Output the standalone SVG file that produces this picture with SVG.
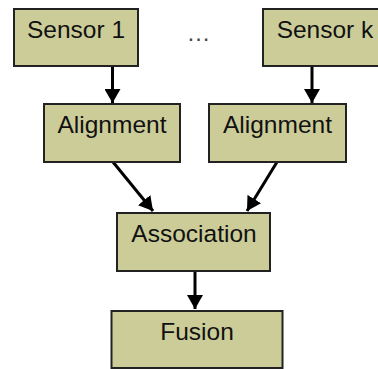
<svg xmlns="http://www.w3.org/2000/svg" width="378" height="369" viewBox="0 0 378 369">
  <style>
    .box { fill: #cccc99; stroke: #222222; stroke-width: 2; }
    .label { font-family: "Liberation Sans", Arial, sans-serif; font-size: 24.5px; fill: #111111; text-anchor: middle; }
    .edge { stroke: #000000; stroke-width: 3; fill: none; marker-end: url(#head); }
  </style>
  <defs>
    <marker id="head" markerUnits="userSpaceOnUse" markerWidth="16" markerHeight="16" refX="14" refY="8" orient="auto">
      <path d="M0,0 L14,8 L0,16 z" fill="#000000"/>
    </marker>
  </defs>
  <rect width="378" height="369" fill="#ffffff"/>

  <g id="connectors">
    <line class="edge" x1="112.5" y1="66" x2="112.5" y2="103"/>
    <line class="edge" x1="312" y1="66" x2="312" y2="103"/>
    <line class="edge" x1="113" y1="162" x2="153" y2="211"/>
    <line class="edge" x1="277" y1="162" x2="247" y2="211"/>
    <line class="edge" x1="195" y1="271" x2="195" y2="309"/>
  </g>

  <g id="sensor1">
    <rect class="box" x="14" y="9" width="124" height="57"/>
    <text class="label" x="76" y="38">Sensor 1</text>
  </g>

  <g id="ellipsis">
    <text x="198.5" y="41" font-family="Liberation Sans, Arial, sans-serif" font-size="24" fill="#444444" text-anchor="middle">…</text>
  </g>

  <g id="sensork">
    <rect class="box" x="263" y="9" width="124" height="57"/>
    <text class="label" x="325" y="38">Sensor k</text>
  </g>

  <g id="alignment1">
    <rect class="box" x="44" y="104" width="136" height="58"/>
    <text class="label" x="112" y="133">Alignment</text>
  </g>

  <g id="alignment2">
    <rect class="box" x="209" y="104" width="137" height="58"/>
    <text class="label" x="277.5" y="133">Alignment</text>
  </g>

  <g id="association">
    <rect class="box" x="117" y="213" width="153" height="58"/>
    <text class="label" x="194" y="242">Association</text>
  </g>

  <g id="fusion">
    <rect class="box" x="111.5" y="311" width="171" height="57"/>
    <text class="label" x="197" y="340">Fusion</text>
  </g>
</svg>
